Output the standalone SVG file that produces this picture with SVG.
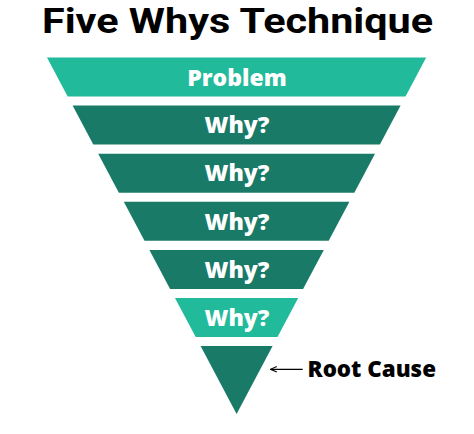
<svg xmlns="http://www.w3.org/2000/svg" width="474" height="434" viewBox="0 0 474 434">
<defs>
<style>
.light{fill:#21BA9B}
.dark{fill:#187A67}
.lbl{font-family:"Open Sans","Noto Sans","DejaVu Sans",sans-serif;font-weight:800;font-size:23px;fill:#fff;text-anchor:middle}
.title{font-family:Roboto,"Liberation Sans",sans-serif;font-weight:700;font-size:35px;fill:#000}
.note{font-family:"Open Sans","Noto Sans","DejaVu Sans",sans-serif;font-weight:800;font-size:22.5px;fill:#000}
</style>
<marker id="ah" viewBox="0 0 10 10" refX="1" refY="5" markerWidth="7" markerHeight="7" orient="auto" markerUnits="userSpaceOnUse">
<path d="M10,1 L1,5 L10,9" fill="none" stroke="#000" stroke-width="1.5"/>
</marker>
</defs>
<rect width="474" height="434" fill="#fff"/>
<text class="title" x="42" y="33" textLength="391" lengthAdjust="spacingAndGlyphs">Five Whys Technique</text>
<g id="problem"><polygon class="light" points="47,57.5 426.2,57.5 405.5,96.5 67.7,96.5"/><text class="lbl" x="237" y="85.5">Problem</text></g>
<g id="why1"><polygon class="dark" points="72.6,105.6 400.6,105.6 379.9,144.6 93.3,144.6"/><text class="lbl" x="237" y="133.3">Why?</text></g>
<g id="why2"><polygon class="dark" points="98.2,153.7 375.0,153.7 354.3,192.7 118.9,192.7"/><text class="lbl" x="237" y="181.4">Why?</text></g>
<g id="why3"><polygon class="dark" points="123.8,201.8 349.4,201.8 328.7,240.8 144.5,240.8"/><text class="lbl" x="237" y="229.5">Why?</text></g>
<g id="why4"><polygon class="dark" points="149.4,249.9 323.8,249.9 303.1,288.9 170.1,288.9"/><text class="lbl" x="237" y="277.6">Why?</text></g>
<g id="why5"><polygon class="light" points="175.0,298.0 298.2,298.0 277.5,337.0 195.7,337.0"/><text class="lbl" x="237" y="325.7">Why?</text></g>
<g id="root"><polygon class="dark" points="200.6,346.1 272.6,346.1 236.6,414"/></g>
<g id="connectors"><line x1="270.5" y1="369.3" x2="302.7" y2="369.3" stroke="#000" stroke-width="1.2" marker-start="url(#ah)"/></g>
<text class="note" x="307.5" y="377.3" textLength="128.5" lengthAdjust="spacingAndGlyphs">Root Cause</text>
</svg>
